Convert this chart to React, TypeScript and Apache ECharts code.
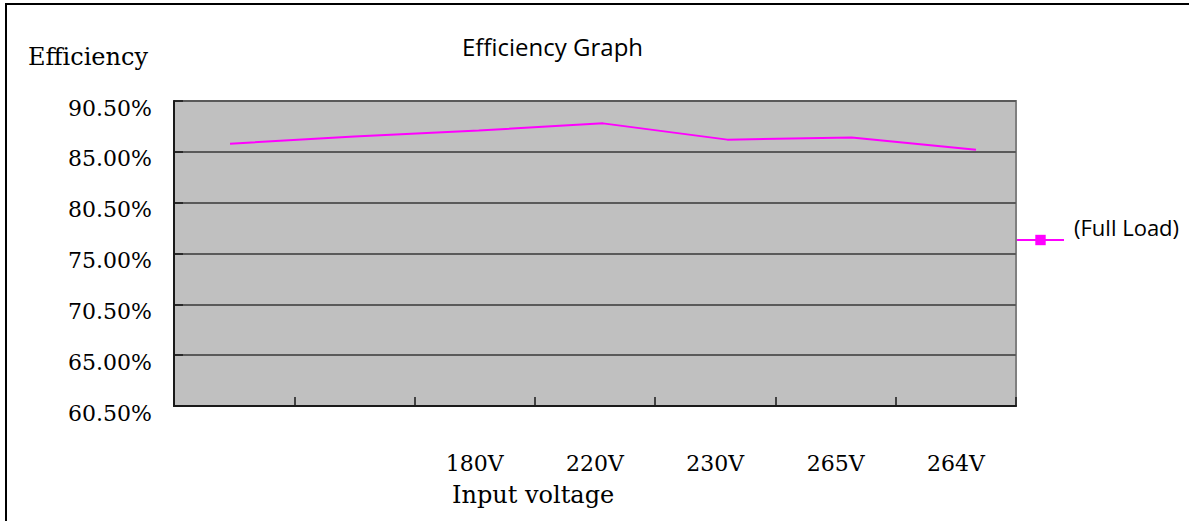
import { useEffect, useRef } from 'react';
import * as echarts from 'echarts';

const categories = ['', '', '180V', '220V', '230V', '265V', '264V'];
const seriesName = '(Full Load)';
const fullLoad = [85.8, 86.5, 87.1, 87.8, 86.2, 86.4, 85.2];
const yTickValues = [60, 65, 70, 75, 80, 85, 90];
const yTickLabels = ['60.50%', '65.00%', '70.50%', '75.00%', '80.50%', '85.00%', '90.50%'];
const titleText = 'Efficiency Graph';
const yAxisTitle = 'Efficiency';
const xAxisTitle = 'Input voltage';

const SERIF = '"DejaVu Serif", "Liberation Serif", serif';
const SANS = '"Open Sans", "Noto Sans", sans-serif';

export default function App() {
  const ref = useRef<HTMLDivElement>(null);
  useEffect(() => {
    if (!ref.current) return;
    const chart = echarts.init(ref.current, undefined, { renderer: 'svg' });
    const yFmt = (v: number) => {
      const i = yTickValues.indexOf(Math.round(v));
      return i >= 0 ? yTickLabels[i] : '';
    };
    chart.setOption({
      animation: false,
      backgroundColor: '#ffffff',
      title: {
        text: titleText,
        left: 457,
        top: 29,
        textStyle: { fontFamily: SANS, fontSize: 24, fontWeight: 'normal', color: '#000' },
      },
      legend: {
        data: [seriesName],
        left: 1016,
        top: 216,
        padding: 0,
        itemWidth: 47,
        itemHeight: 13,
        formatter: (name: string) => `{a|${name}}`,
        textStyle: {
          fontFamily: SANS, fontSize: 22, color: '#000',
          rich: { a: { fontFamily: SANS, fontSize: 22, color: '#000', padding: [0, 0, 26, 5] } },
        },
      },
      grid: [
        { left: 174, right: 173, top: 101, bottom: 115, show: true, backgroundColor: '#C0C0C0', borderColor: '#808080', borderWidth: 2 },
        { left: 230, right: 213, top: 101, bottom: 115 },
      ],
      xAxis: [
        {
          type: 'category',
          gridIndex: 0,
          data: categories,
          boundaryGap: true,
          axisLine: { show: true, lineStyle: { color: '#1a1a1a', width: 2 } },
          axisTick: { show: true, inside: true, length: 9, lineStyle: { color: '#1a1a1a', width: 1.5 } },
          axisLabel: { fontFamily: SERIF, fontSize: 22, color: '#000', margin: 46, interval: 0 },
          splitLine: { show: false },
        },
        {
          type: 'category',
          gridIndex: 1,
          data: categories,
          boundaryGap: false,
          show: false,
        },
      ],
      yAxis: [
        {
          type: 'value',
          gridIndex: 0,
          min: 60,
          max: 90,
          interval: 5,
          axisLine: { show: true, lineStyle: { color: '#1a1a1a', width: 2 } },
          axisTick: { show: true, inside: true, length: 9, lineStyle: { color: '#1a1a1a', width: 1.5 } },
          axisLabel: {
            fontFamily: SERIF, fontSize: 22, color: '#000', margin: 22, formatter: yFmt,
            verticalAlign: 'top', lineHeight: 14,
          },
          splitLine: { show: true, lineStyle: { color: '#5a5a5a', width: 2 } },
        },
        {
          type: 'value',
          gridIndex: 1,
          min: 60,
          max: 90,
          interval: 5,
          show: false,
          splitLine: { show: false },
        },
      ],
      series: [
        {
          name: seriesName,
          type: 'line',
          xAxisIndex: 1,
          yAxisIndex: 1,
          data: fullLoad,
          color: '#FF00FF',
          symbol: 'rect',
          symbolSize: 10,
          showSymbol: false,
          lineStyle: { color: '#FF00FF', width: 2 },
          itemStyle: { color: '#FF00FF' },
        },
      ],
      graphic: [
        { type: 'line', shape: { x1: 6, y1: 4, x2: 1189, y2: 4 }, style: { stroke: '#000', lineWidth: 2 } },
        { type: 'line', shape: { x1: 6, y1: 3, x2: 6, y2: 521 }, style: { stroke: '#000', lineWidth: 2 } },
        {
          type: 'text', left: 28, top: 45,
          style: { text: yAxisTitle, fontFamily: SERIF, fontSize: 24, fill: '#000' },
        },
        {
          type: 'text', left: 452, top: 483,
          style: { text: xAxisTitle, fontFamily: SERIF, fontSize: 24, fill: '#000' },
        },
      ],
    });
    return () => chart.dispose();
  }, []);
  return <div ref={ref} style={{ position: 'absolute', left: 0, top: 0, width: 1189, height: 521 }} />;
}
